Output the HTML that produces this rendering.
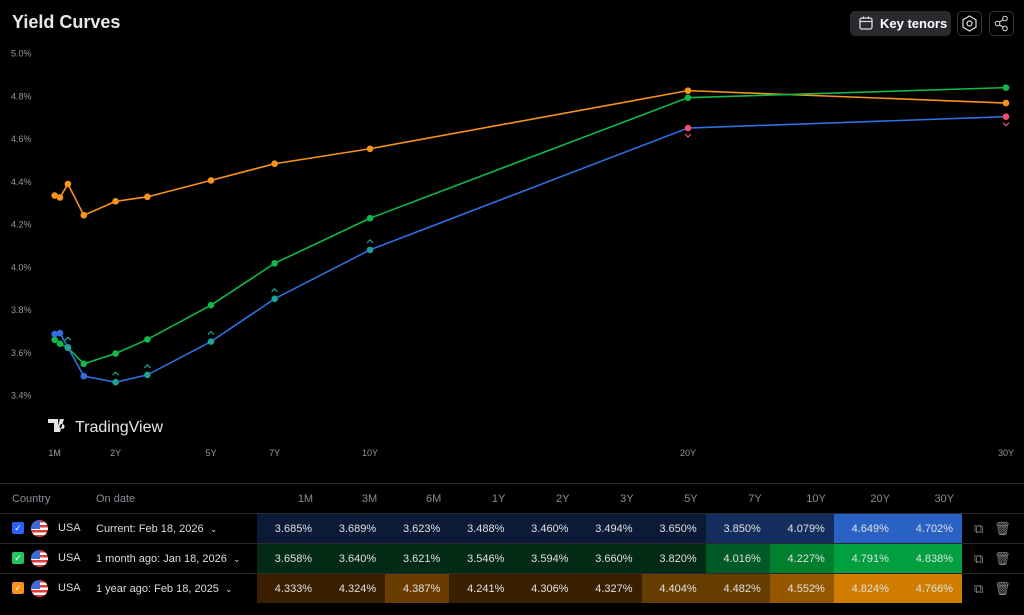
<!DOCTYPE html>
<html><head><meta charset="utf-8">
<style>
body{margin:0;width:1024px;height:615px;background:#000;font-family:"Liberation Sans",sans-serif;color:#d1d4dc;overflow:hidden;position:relative}
.title{position:absolute;left:12px;top:12px;font-size:18px;font-weight:bold;color:#e8e8e8}
.btn{position:absolute;top:11px;height:25px;border-radius:5px;box-sizing:border-box}
#chart{position:absolute;left:0;top:0}
table{position:absolute;left:0;top:483px;width:1024px;border-collapse:collapse;font-size:11px;table-layout:fixed}
td,th{height:29px;padding:0;border-top:1px solid #2a2a2a;overflow:hidden}
th{font-weight:normal;color:#8a8d96;text-align:right;padding-right:8px}
td.v{text-align:right;padding-right:9px;color:#e0e0e0}
.fl{display:inline-block;width:17px;height:17px;border-radius:50%;vertical-align:middle;background:repeating-linear-gradient(#e03a3a 0 2.5px,#fff 2.5px 5px);position:relative;overflow:hidden}
</style></head><body>
<div class="title">Yield Curves</div>
<div class="btn" style="left:850px;width:101px;background:#2a2a2e;color:#fff;font-size:13px;font-weight:bold;line-height:25px;padding-left:30px">
<svg style="position:absolute;left:9px;top:5px" width="14" height="14" viewBox="0 0 14 14"><rect x="1" y="2" width="12" height="11" rx="2" fill="none" stroke="#ddd" stroke-width="1.3"/><line x1="1" y1="5.5" x2="13" y2="5.5" stroke="#ddd" stroke-width="1.2"/><line x1="4.5" y1="0.5" x2="4.5" y2="3" stroke="#ddd"/><line x1="9.5" y1="0.5" x2="9.5" y2="3" stroke="#ddd"/></svg>Key tenors</div>
<div class="btn" style="left:957px;width:25px;border:1px solid #333"><svg width="23" height="23" viewBox="0 0 23 23"><polygon points="11.5,4 18,7.8 18,15.2 11.5,19 5,15.2 5,7.8" fill="none" stroke="#ddd" stroke-width="1.2"/><circle cx="11.5" cy="11.5" r="2.5" fill="none" stroke="#ddd" stroke-width="1.2"/></svg></div>
<div class="btn" style="left:989px;width:25px;border:1px solid #333"><svg width="23" height="23" viewBox="0 0 23 23"><circle cx="15" cy="6.5" r="2.3" fill="none" stroke="#ddd"/><circle cx="7.5" cy="11.5" r="2.3" fill="none" stroke="#ddd"/><circle cx="15" cy="16.5" r="2.3" fill="none" stroke="#ddd"/><line x1="9.5" y1="10.2" x2="13" y2="7.8" stroke="#ddd"/><line x1="9.5" y1="12.8" x2="13" y2="15.2" stroke="#ddd"/></svg></div>
<svg id="chart" width="1024" height="480"></svg>
<table><colgroup><col style="width:85px"><col style="width:172px"><col span="11" style="width:64.1px"><col></colgroup><tbody id="tb"></tbody></table>
<script>
const tenors=['1M','3M','6M','1Y','2Y','3Y','5Y','7Y','10Y','20Y','30Y'];
const tenorYears=[1/12,0.25,0.5,1,2,3,5,7,10,20,30];
const current=[3.685,3.689,3.623,3.488,3.460,3.494,3.650,3.850,4.079,4.649,4.702];
const monthAgo=[3.658,3.640,3.621,3.546,3.594,3.660,3.820,4.016,4.227,4.791,4.838];
const yearAgo=[4.333,4.324,4.387,4.241,4.306,4.327,4.404,4.482,4.552,4.824,4.766];
const yTicks=[3.4,3.6,3.8,4.0,4.2,4.4,4.6,4.8,5.0];
const xTickLabels=['1M','2Y','5Y','7Y','10Y','20Y','30Y'];
const xTickYears=[1/12,2,5,7,10,20,30];
const NS='http://www.w3.org/2000/svg';
const svg=document.getElementById('chart');
const X=t=>52+31.8*t;
const Y=v=>53+(5.0-v)/0.2*42.75;
function mk(tag,attrs,parent){const e=document.createElementNS(NS,tag);for(const k in attrs)e.setAttribute(k,attrs[k]);(parent||svg).appendChild(e);return e;}
yTicks.forEach(v=>{const t=mk('text',{x:11,y:Y(v)+3.5,'font-size':9,fill:'#9598a1'});t.textContent=v.toFixed(1)+'%';

});
xTickYears.forEach((yr,i)=>{const t=mk('text',{x:X(yr),y:456,'font-size':9,fill:'#9598a1','text-anchor':'middle'});t.textContent=xTickLabels[i];

});
const wm=mk('g',{});


mk('path',{d:'M48 419h10v13h-4v-9h-6z M60 419h4l-4 13h-4z M62 424a2.5 2.5 0 1 0 0.1 0',fill:'#e6e6e6'},wm);
const wt=mk('text',{x:75,y:432,'font-size':16,fill:'#e6e6e6'},wm);wt.textContent='TradingView';
function series(vals,color,name,markColors){
 const g=mk('g',{});
 
 
 mk('polyline',{points:vals.map((v,i)=>X(tenorYears[i])+','+Y(v)).join(' '),fill:'none',stroke:color,'stroke-width':1.6},g);
 vals.forEach((v,i)=>{const c=mk('circle',{cx:X(tenorYears[i]),cy:Y(v),r:3.3,fill:markColors?markColors[i]:color},g);
 
 });
}
series(yearAgo,'#f7931a','year-ago-curve');
series(monthAgo,'#10b84a','month-ago-curve');
const mc=current.map((v,i)=>i<2||i==3?'#2f6fe0':(i>=9?'#f0506e':'#1fa394'));
series(current,'#2f6fe0','current-curve',mc);
current.forEach((v,i)=>{const x=X(tenorYears[i]),y=Y(v);
 if(mc[i]=='#1fa394'){mk('path',{d:`M${x-3} ${y-7}l3 -3l3 3`,fill:'none',stroke:'#1fa394','stroke-width':1.2});}
 if(mc[i]=='#f0506e'){mk('path',{d:`M${x-3} ${y+6}l3 3l3 -3`,fill:'none',stroke:'#f0506e','stroke-width':1.2});}
});
const rows=[{label:'Current: Feb 18, 2026',vals:current,chk:'#2962ff',cols:['#0b1a36','#0b1a36','#0b1a36','#0b1a36','#0b1a36','#0b1a36','#0b1a36','#142d5f','#142d5f','#2962c4','#2962c4']},
{label:'1 month ago: Jan 18, 2026',vals:monthAgo,chk:'#22c55e',cols:['#032a14','#032a14','#032a14','#032a14','#032a14','#032a14','#032a14','#005a25','#00802f','#00a040','#00a040']},
{label:'1 year ago: Feb 18, 2025',vals:yearAgo,chk:'#f7931a',cols:['#3a2000','#3a2000','#6a3c00','#3a2000','#3a2000','#3a2000','#653d00','#653d00','#955800','#d07c00','#d07c00']}];
const tb=document.getElementById('tb');
let h='<tr><th style="text-align:left;padding-left:12px">Country</th><th style="text-align:left;padding-left:11px">On date</th>'+tenors.map(t=>'<th>'+t+'</th>').join('')+'<th></th></tr>';
rows.forEach((r,ri)=>{
 h+='<tr><td style="padding-left:12px;white-space:nowrap;line-height:17px"><span style="display:inline-block;width:12px;height:12px;border-radius:2px;background:'+r.chk+';vertical-align:middle;color:#fff;font-size:9px;text-align:center;line-height:12px">✓</span><span class="fl" style="margin-left:7px"><span style="position:absolute;left:0;top:0;width:9px;height:9px;background:#3d6ad6"></span></span><span style="margin-left:10px;color:#ddd;vertical-align:middle">USA</span></td><td style="padding-left:11px;color:#ddd;white-space:nowrap">'+r.label+' &nbsp;<span style="font-size:9px">⌄</span></td>';
 r.vals.forEach((v,i)=>{h+='<td class="v" style="background:'+r.cols[i]+'">'+v.toFixed(3)+'%</td>';});
 h+='<td style="color:#888;font-size:13px;padding-left:12px;white-space:nowrap"><span>⧉</span> &nbsp; <span>🗑</span></td></tr>';
});
tb.innerHTML=h;
</script>
</body></html>
